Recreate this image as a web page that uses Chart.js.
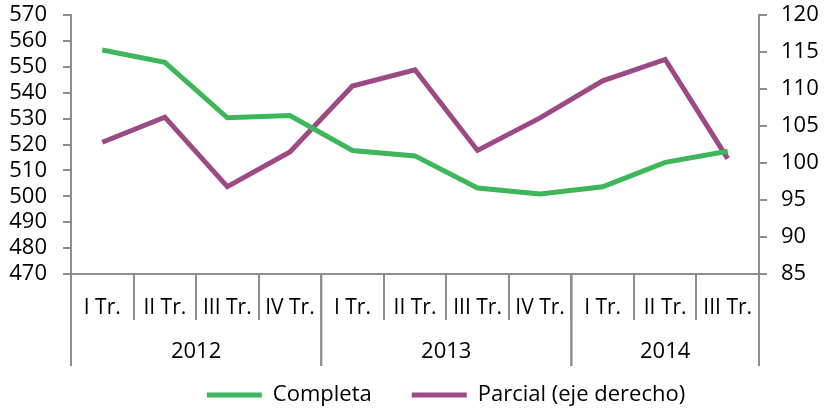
<!DOCTYPE html>
<html>
<head>
<meta charset="utf-8">
<script src="https://cdn.jsdelivr.net/npm/chart.js@4"></script>
<style>
  html, body { margin: 0; padding: 0; background: #fff; }
  #wrap { width: 824px; height: 411px; }
</style>
</head>
<body>
<div id="wrap"><canvas id="chart" width="824" height="411"></canvas></div>
<script>
// data
var quarters = ['I Tr.', 'II Tr.', 'III Tr.', 'IV Tr.', 'I Tr.', 'II Tr.', 'III Tr.', 'IV Tr.', 'I Tr.', 'II Tr.', 'III Tr.'];
var years = ['2012', '2013', '2014'];
var quartersPerYear = [4, 4, 3];
var completa = [556.5, 551.7, 530.3, 531.2, 517.7, 515.6, 503.2, 500.9, 503.7, 513.1, 517.4];
var parcial = [102.8, 106.2, 96.8, 101.5, 110.4, 112.6, 101.7, 106.1, 111.1, 114.0, 100.6];
var leftTicks = [470, 570, 10];
var rightTicks = [85, 120, 5];

var AXIS = '#8e8e8e';
var FONT = 'Open Sans';

// year row under the quarter labels
var yearRow = {
  id: 'yearRow',
  afterLayout: function(chart) {
    // legend sits a bit right of centre and lower in the original
    var lg = chart.legend;
    lg.left += 34; lg.right += 34;
    lg.top += 5; lg.bottom += 5;
  },
  afterDraw: function(chart) {
    var x = chart.scales.x, c = chart.ctx;
    var half = (x.getPixelForValue(1) - x.getPixelForValue(0)) / 2;
    var top = x.top, bottom = x.top + 92;
    c.save();
    c.strokeStyle = AXIS; c.lineWidth = 2;
    c.fillStyle = '#000';
    c.font = '22px "' + FONT + '"';
    c.textAlign = 'center'; c.textBaseline = 'middle';
    var start = 0;
    for (var i = 0; i < years.length; i++) {
      var end = start + quartersPerYear[i] - 1;
      var l = x.getPixelForValue(start) - half, r = x.getPixelForValue(end) + half;
      c.beginPath();
      c.moveTo(l, top); c.lineTo(l, bottom);
      c.moveTo(r, top); c.lineTo(r, bottom);
      c.stroke();
      c.fillText(years[i], (l + r) / 2, x.top + 78);
      start = end + 1;
    }
    c.restore();
  }
};

function noPad(s) { s.paddingTop = 0; s.paddingBottom = 0; }

new Chart(document.getElementById('chart'), {
  type: 'line',
  data: {
    labels: quarters,
    datasets: [
      { label: 'Completa', data: completa, yAxisID: 'y',
        borderColor: '#3db65c', backgroundColor: '#3db65c', borderWidth: 5,
        pointRadius: 0, pointStyle: 'line', tension: 0 },
      { label: 'Parcial (eje derecho)', data: parcial, yAxisID: 'y1',
        borderColor: '#9b4a85', backgroundColor: '#9b4a85', borderWidth: 5,
        pointRadius: 0, pointStyle: 'line', tension: 0 }
    ]
  },
  options: {
    responsive: false,
    animation: false,
    layout: { padding: { top: 15, left: 0, right: 0, bottom: 0 } },
    plugins: {
      tooltip: { enabled: false },
      legend: {
        position: 'bottom',
        labels: {
          usePointStyle: true, pointStyleWidth: 55, boxHeight: 4,
          color: '#000', font: { family: FONT, size: 22 }, padding: 40
        }
      }
    },
    scales: {
      x: {
        offset: true,
        grid: { offset: true, drawOnChartArea: false, color: AXIS, lineWidth: 2, tickLength: 46 },
        border: { color: AXIS, width: 2 },
        ticks: { color: '#000', font: { family: FONT, size: 21 }, padding: -25, maxRotation: 0, autoSkip: false },
        afterFit: function(s) { s.height = 65; }
      },
      y: {
        position: 'left', min: leftTicks[0], max: leftTicks[1],
        ticks: { stepSize: leftTicks[2], autoSkip: false, color: '#000', font: { family: FONT, size: 22 }, padding: 16 },
        grid: { drawOnChartArea: false, color: AXIS, lineWidth: 2, tickLength: 8 },
        border: { color: AXIS, width: 2 },
        afterFit: function(s) { s.width = 71; noPad(s); }
      },
      y1: {
        position: 'right', min: rightTicks[0], max: rightTicks[1],
        ticks: { stepSize: rightTicks[2], autoSkip: false, color: '#000', font: { family: FONT, size: 22 }, padding: 14 },
        grid: { drawOnChartArea: false, color: AXIS, lineWidth: 2, tickLength: 8 },
        border: { color: AXIS, width: 2 },
        afterFit: function(s) { s.width = 65; noPad(s); }
      }
    }
  },
  plugins: [yearRow]
});
</script>
</body>
</html>
